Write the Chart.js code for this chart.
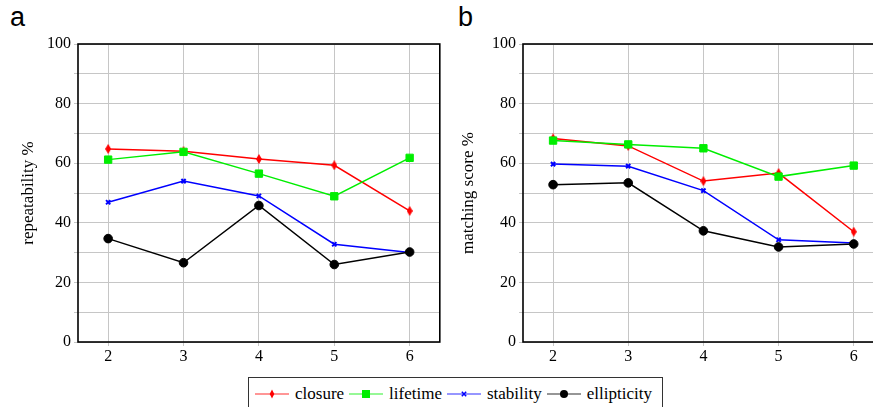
<!DOCTYPE html>
<html>
<head>
<meta charset="utf-8">
<script src="https://cdn.jsdelivr.net/npm/chart.js@4.4.0/dist/chart.umd.min.js"></script>
<style>
  html, body { margin: 0; padding: 0; background: #fff; overflow: hidden; }
  body { width: 873px; height: 407px; position: relative; }
  .panel { position: absolute; top: 0; height: 370px; }
  #wrapA { left: 0; width: 446px; }
  #wrapB { left: 440px; width: 450px; }
  .tag { position: absolute; top: 2px; font: 27px "Liberation Sans", Arial, sans-serif; color: #000; }
  #legend {
    position: absolute; left: 248px; top: 377px; width: 415px; height: 34px;
    border: 1px solid #333; box-sizing: border-box;
    display: flex; align-items: center; padding-left: 5px;
    font: 17px "Liberation Serif", "DejaVu Serif", serif; color: #000;
  }
  #legend span.item { display: flex; align-items: center; margin-right: 4px; }
  #legend svg { margin-right: 5px; }
</style>
</head>
<body>
<div class="tag" style="left:10px">a</div>
<div class="tag" style="left:458px">b</div>
<div class="panel" id="wrapA"><canvas id="chartA"></canvas></div>
<div class="panel" id="wrapB"><canvas id="chartB"></canvas></div>
<div id="legend"></div>
<script>
// valores
const xValues = [2, 3, 4, 5, 6];
const seriesNames = ['closure', 'lifetime', 'stability', 'ellipticity'];

// painel a: repeatability %
const closureA = [64.8, 64.0, 61.4, 59.3, 44.0];
const lifetimeA = [61.2, 63.8, 56.5, 48.9, 61.8];
const stabilityA = [46.9, 54.0, 49.0, 32.8, 30.0];
const ellipticityA = [34.7, 26.6, 45.8, 26.0, 30.2];

// painel b: matching score %
const closureB = [68.3, 65.8, 54.0, 56.7, 37.0];
const lifetimeB = [67.6, 66.3, 65.0, 55.5, 59.2];
const stabilityB = [59.7, 59.0, 50.8, 34.3, 33.2];
const ellipticityB = [52.8, 53.4, 37.3, 31.9, 32.9];

const yTickLabels = [0, 20, 40, 60, 80, 100];

// losango estreito para "closure"
const diamond = document.createElement('canvas');
diamond.width = 6; diamond.height = 10;
(() => {
  const c = diamond.getContext('2d');
  c.fillStyle = '#ff0000';
  c.beginPath();
  c.moveTo(3, 0); c.lineTo(6, 5); c.lineTo(3, 10); c.lineTo(0, 5);
  c.closePath(); c.fill();
})();

const styles = [
  { color: '#ff0000', point: diamond, radius: 4, width: 1.5 },
  { color: '#00ee00', point: 'rect', radius: 5.2, width: 1.5 },
  { color: '#0000ff', point: 'crossRot', radius: 3, width: 1.5 },
  { color: '#000000', point: 'circle', radius: 4.3, width: 1.5 }
];

const serifFam = '"Liberation Serif", "DejaVu Serif", serif';
const serifFont = { family: serifFam, size: 16 };

function buildDatasets(arrays) {
  return arrays.map((vals, i) => ({
    label: seriesNames[i],
    data: vals.map((v, j) => ({ x: xValues[j], y: v })),
    order: arrays.length - 1 - i, // a última série fica por cima
    borderColor: styles[i].color,
    backgroundColor: styles[i].color,
    pointBackgroundColor: styles[i].color,
    pointBorderColor: styles[i].color,
    pointStyle: styles[i].point,
    pointRadius: styles[i].radius,
    pointBorderWidth: styles[i].point === 'crossRot' ? 2 : 1,
    borderWidth: styles[i].width,
    tension: 0
  }));
}

const frame = {
  id: 'frame',
  afterDraw(chart) {
    const { ctx, chartArea: a } = chart;
    ctx.save();
    ctx.strokeStyle = '#000';
    ctx.lineWidth = 1.6;
    ctx.strokeRect(a.left, a.top, a.right - a.left, a.bottom - a.top);
    ctx.restore();
  }
};

function makeChart(id, arrays, yTitle, axisWidth, rightPad) {
  return new Chart(document.getElementById(id), {
    type: 'line',
    data: { datasets: buildDatasets(arrays) },
    options: {
      responsive: true,
      maintainAspectRatio: false,
      animation: false,
      layout: { padding: { top: 44, right: rightPad, left: 0, bottom: 0 } },
      plugins: { legend: { display: false }, tooltip: { enabled: false } },
      scales: {
        x: {
          type: 'linear',
          min: 1.6,
          max: 6.4,
          afterBuildTicks: s => { s.ticks = xValues.map(v => ({ value: v })); },
          afterFit: s => { s.height = 28; },
          border: { display: false },
          grid: { color: '#c6c6c6', lineWidth: 1, drawTicks: true, tickLength: 4 },
          ticks: { color: '#000', font: serifFont, padding: 1, maxRotation: 0 }
        },
        y: {
          min: 0,
          max: 100,
          afterBuildTicks: s => {
            const t = [];
            for (let v = 0; v <= 100; v += 10) t.push({ value: v });
            s.ticks = t;
          },
          afterFit: s => { s.width = axisWidth; },
          border: { display: false },
          grid: { color: '#c6c6c6', lineWidth: 1, drawTicks: true, tickLength: 4 },
          ticks: {
            color: '#000',
            font: serifFont,
            padding: 3,
            autoSkip: false,
            callback: v => yTickLabels.includes(v) ? String(v) : ''
          },
          title: {
            display: true,
            text: yTitle,
            color: '#000',
            font: { family: serifFam, size: 17 },
            padding: { top: 18, bottom: 0 }
          }
        }
      }
    },
    plugins: [frame]
  });
}

makeChart('chartA', [closureA, lifetimeA, stabilityA, ellipticityA], 'repeatability %', 78, 3);
makeChart('chartB', [closureB, lifetimeB, stabilityB, ellipticityB], 'matching score %', 83, 2);

// legenda em HTML
const legend = document.getElementById('legend');
function markerSvg(i) {
  const c = styles[i].color;
  const line = `<line x1="1" y1="8" x2="35" y2="8" stroke="${c}" stroke-opacity="0.55" stroke-width="1.5"/>`;
  let m = '';
  if (i === 0) m = `<polygon points="18,3.5 20.3,8 18,12.5 15.7,8" fill="${c}"/>`;
  if (i === 1) m = `<rect x="14" y="4" width="8" height="8" fill="${c}"/>`;
  if (i === 2) m = `<path d="M15.8 5.8 L20.2 10.2 M20.2 5.8 L15.8 10.2" stroke="${c}" stroke-width="1.5"/>`;
  if (i === 3) m = `<circle cx="18" cy="8" r="4" fill="${c}"/>`;
  return `<svg width="36" height="16">${line}${m}</svg>`;
}
seriesNames.forEach((name, i) => {
  const s = document.createElement('span');
  s.className = 'item';
  s.innerHTML = markerSvg(i) + '<span>' + name + '</span>';
  legend.appendChild(s);
});
</script>
</body>
</html>
